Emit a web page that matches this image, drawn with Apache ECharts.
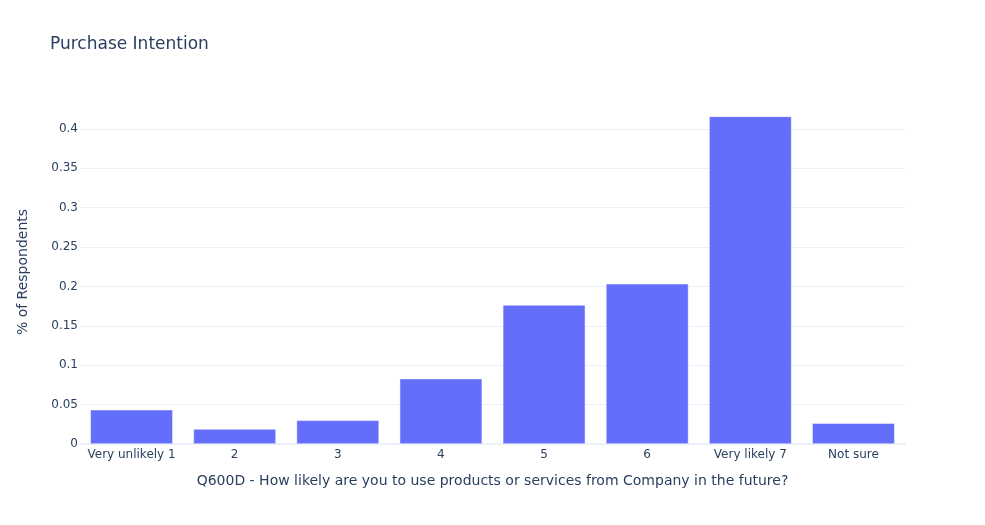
<!DOCTYPE html>
<html>
<head>
<meta charset="utf-8">
<script src="https://cdn.jsdelivr.net/npm/echarts@6/dist/echarts.min.js"></script>
<style>html,body{margin:0;padding:0;background:#fff}#c{width:985px;height:525px}</style>
</head>
<body>
<div id="c"></div>
<script>
var categories = ['Very unlikely 1', '2', '3', '4', '5', '6', 'Very likely 7', 'Not sure'];
var shares = [0.0435, 0.019, 0.030, 0.083, 0.1765, 0.2035, 0.416, 0.0265];
var yTicks = [0, 0.05, 0.1, 0.15, 0.2, 0.25, 0.3, 0.35, 0.4];

var FONT = '"DejaVu Sans", verdana, arial, sans-serif';
var TXT = '#2a3f5f';
var chart = echarts.init(document.getElementById('c'), null, {renderer: 'canvas'});
chart.setOption({
  animation: false,
  backgroundColor: '#fff',
  textStyle: {fontFamily: FONT, color: TXT},
  title: {
    text: 'Purchase Intention', left: 50, top: 36, padding: 0,
    textStyle: {fontFamily: FONT, fontSize: 17, fontWeight: 'normal', color: TXT}
  },
  grid: {left: 80, right: 80, top: 100, bottom: 81, containLabel: false},
  xAxis: {
    type: 'category', data: categories,
    name: 'Q600D - How likely are you to use products or services from Company in the future?',
    nameLocation: 'middle', nameGap: 30,
    nameTextStyle: {fontFamily: FONT, fontSize: 14, color: TXT},
    axisLine: {show: true, lineStyle: {color: '#ebf0f8', width: 2}},
    axisTick: {show: false},
    axisLabel: {fontFamily: FONT, fontSize: 12, color: TXT, margin: 5, interval: 0},
    splitLine: {show: false}
  },
  yAxis: {
    type: 'value', min: 0, max: 0.4368, interval: 0.05,
    name: '% of Respondents', nameLocation: 'middle', nameGap: 50,
    nameTextStyle: {fontFamily: FONT, fontSize: 14, color: TXT},
    axisLine: {show: false}, axisTick: {show: false},
    axisLabel: {
      fontFamily: FONT, fontSize: 12, color: TXT, margin: 2, showMaxLabel: false,
      formatter: function (v) {
        for (var i = 0; i < yTicks.length; i++) {
          if (Math.abs(v - yTicks[i]) < 1e-9) return String(yTicks[i]);
        }
        return '';
      }
    },
    splitLine: {show: true, showMaxLine: false, lineStyle: {color: '#ebf0f8', width: 1}}
  },
  series: [{
    type: 'bar', data: shares, barCategoryGap: '20%',
    itemStyle: {color: '#636efa', borderColor: '#ffffff', borderWidth: 0.5},
    z: 3
  }]
});
</script>
</body>
</html>
